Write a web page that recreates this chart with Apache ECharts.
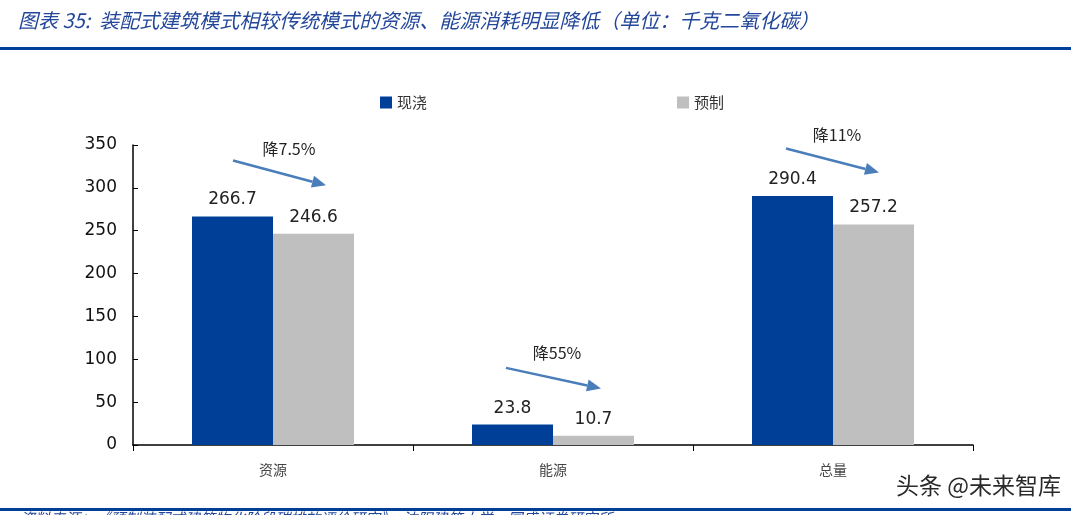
<!DOCTYPE html>
<html>
<head>
<meta charset="utf-8">
<script src="https://cdn.jsdelivr.net/npm/echarts@6/dist/echarts.min.js"></script>
<style>
  html, body {margin: 0; padding: 0; background: #fff;}
  #chart {width: 1071px; height: 515px;}
</style>
</head>
<body>
<div id="chart"></div>
<script>
const categories = ['资源', '能源', '总量'];
const castInPlace = [266.7, 23.8, 290.4];
const prefab = [246.6, 10.7, 257.2];
const dropLabels = ['降7.5%', '降55%', '降11%'];
// arrow start / end heights and label height, in axis units
const arrowFrom = [332, 90, 346];
const arrowTo = [303, 66, 318];
const dropLabelY = [345, 108, 362];

const chart = echarts.init(document.getElementById('chart'));
const CJK = '"Noto Sans CJK SC", sans-serif';
const NUM = '"DejaVu Sans", sans-serif';

chart.setOption({
  animation: false,
  color: ['#003f98', '#bfbfbf'],
  legend: {
    top: 90,
    left: 375,
    itemWidth: 12,
    itemHeight: 12,
    itemGap: 250,
    icon: 'rect',
    textStyle: {fontFamily: CJK, fontSize: 15, color: '#333'},
    data: ['现浇', '预制']
  },
  grid: {left: 133, right: 98, top: 145, bottom: 70},
  xAxis: {
    type: 'category',
    data: categories,
    axisLine: {lineStyle: {color: '#000', width: 1.5}},
    axisTick: {show: true, length: 6, lineStyle: {color: '#000'}},
    axisLabel: {fontFamily: CJK, fontSize: 14, color: '#444', margin: 18}
  },
  yAxis: {
    type: 'value',
    min: 0,
    max: 350,
    interval: 50,
    splitLine: {show: false},
    axisLine: {show: true, lineStyle: {color: '#000', width: 1.5}},
    axisTick: {show: true, inside: true, length: 5, lineStyle: {color: '#000'}},
    axisLabel: {fontFamily: NUM, fontSize: 17, color: '#111', margin: 16}
  },
  series: [{
    name: '现浇',
    type: 'bar',
    data: castInPlace,
    barWidth: 81,
    barGap: '0%',
    label: {show: true, position: 'top', distance: 8, fontFamily: NUM, fontSize: 17, color: '#222'}
  }, {
    name: '预制',
    type: 'bar',
    data: prefab,
    barWidth: 81,
    label: {show: true, position: 'top', distance: 8, fontFamily: NUM, fontSize: 17, color: '#222'}
  }]
});

const graphics = [
  {
    type: 'text', left: 18, top: 10,
    style: {text: '图表 35:  装配式建筑模式相较传统模式的资源、能源消耗明显降低（单位：千克二氧化碳）',
      font: 'italic 20px ' + CJK, fill: '#23479a'}
  },
  {type: 'rect', shape: {x: 0, y: 47, width: 1071, height: 3}, style: {fill: '#003f98'}},
  {type: 'rect', shape: {x: 0, y: 508, width: 1071, height: 3}, style: {fill: '#003f98'}},
  {
    type: 'text', left: 20, top: 511,
    style: {text: '资料来源：《预制装配式建筑物化阶段碳排放评价研究》，沈阳建筑大学，国盛证券研究所',
      font: 'italic 15px ' + CJK, fill: '#23479a'}
  },
  {
    type: 'text', left: 896, top: 474,
    style: {text: '头条 @未来智库', font: '23px ' + CJK, fill: '#2a2a2a'}
  }
];

// drop arrows above each pair of bars (pixel nudges from category centre)
const startDx = [-40, -47, -47];
const endDx = [53, 48, 46];
const labelDx = [16, 4, 4];
categories.forEach((c, i) => {
  const p1 = chart.convertToPixel({xAxisIndex: 0, yAxisIndex: 0}, [i, arrowFrom[i]]);
  const p2 = chart.convertToPixel({xAxisIndex: 0, yAxisIndex: 0}, [i, arrowTo[i]]);
  const pl = chart.convertToPixel({xAxisIndex: 0, yAxisIndex: 0}, [i, dropLabelY[i]]);
  const x1 = p1[0] + startDx[i], y1 = p1[1];
  const x2 = p2[0] + endDx[i], y2 = p2[1];
  const ang = Math.atan2(y2 - y1, x2 - x1);
  const head = 14, half = 6;
  const bx = x2 - head * Math.cos(ang), by = y2 - head * Math.sin(ang);
  graphics.push({
    type: 'line',
    shape: {x1: x1, y1: y1, x2: bx, y2: by},
    style: {stroke: '#4a7ebb', lineWidth: 2.5}
  });
  graphics.push({
    type: 'polygon',
    shape: {points: [
      [x2, y2],
      [bx + half * Math.sin(ang), by - half * Math.cos(ang)],
      [bx - half * Math.sin(ang), by + half * Math.cos(ang)]
    ]},
    style: {fill: '#4a7ebb'}
  });
  graphics.push({
    type: 'text',
    x: pl[0] + labelDx[i], y: pl[1],
    style: {text: dropLabels[i], font: '16px ' + CJK, fill: '#222', align: 'center', verticalAlign: 'middle'}
  });
});

chart.setOption({graphic: graphics});
</script>
</body>
</html>
